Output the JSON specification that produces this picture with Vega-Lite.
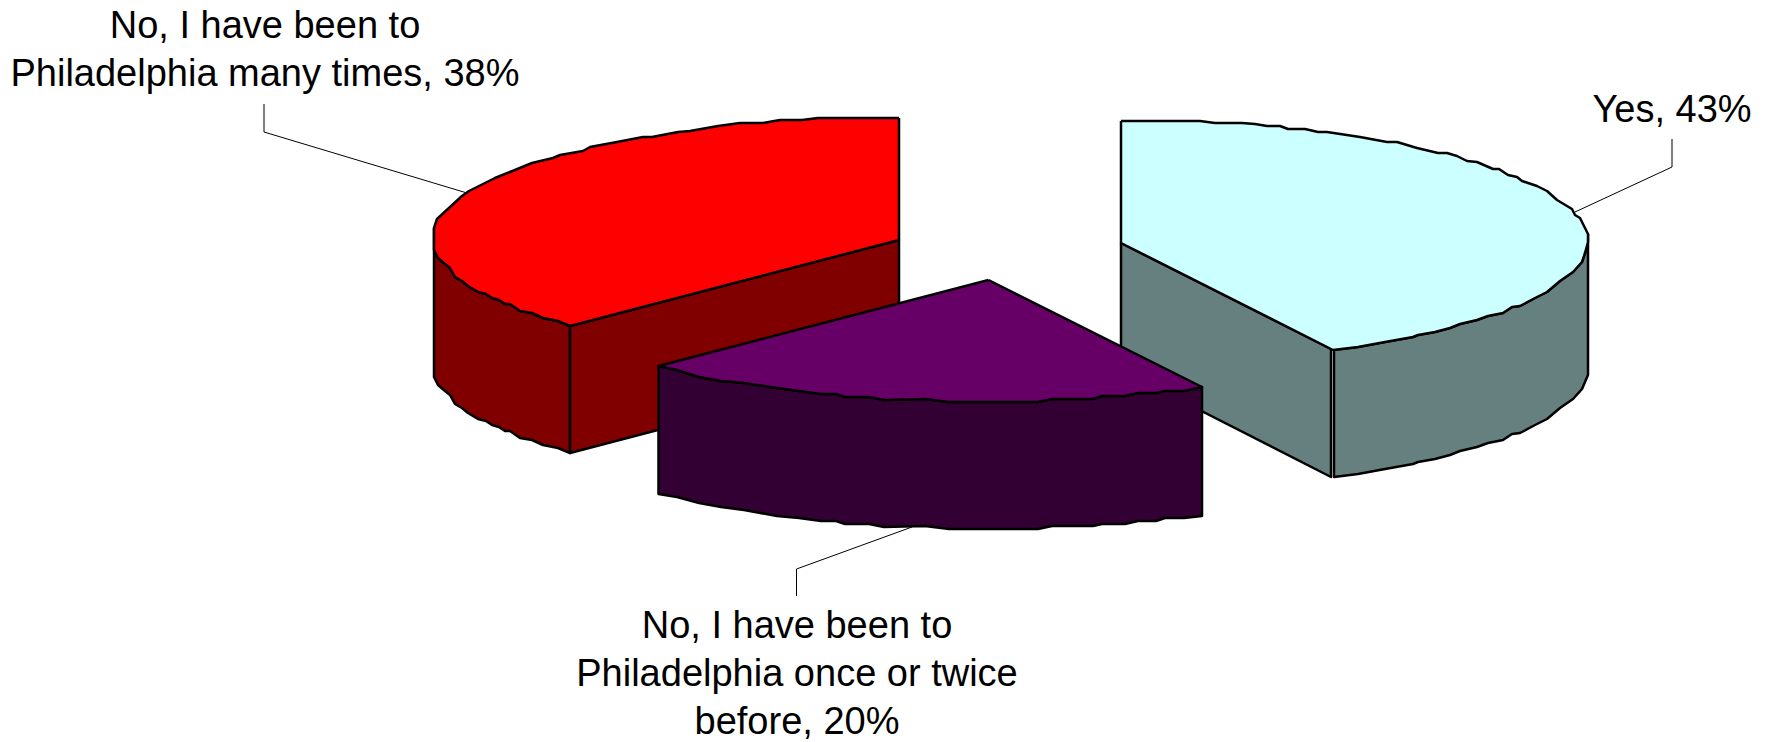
{
  "$schema": "https://vega.github.io/schema/vega-lite/v6.json",
  "autosize": {"type": "none"},
  "width": 1770,
  "height": 742,
  "padding": 0,
  "background": "white",
  "view": {"stroke": null},
  "datasets": {
    "faces": [
      {"face":"many_side","i":1,"x":434,"y":228},{"face":"many_side","i":2,"x":434,"y":250},{"face":"many_side","i":3,"x":438,"y":258},{"face":"many_side","i":4,"x":445,"y":264},{"face":"many_side","i":5,"x":450,"y":268},{"face":"many_side","i":6,"x":455,"y":277},{"face":"many_side","i":7,"x":462,"y":281},{"face":"many_side","i":8,"x":468,"y":286},{"face":"many_side","i":9,"x":478,"y":292},{"face":"many_side","i":10,"x":486,"y":294},{"face":"many_side","i":11,"x":492,"y":298},{"face":"many_side","i":12,"x":499,"y":300},{"face":"many_side","i":13,"x":505,"y":304},{"face":"many_side","i":14,"x":510,"y":304},{"face":"many_side","i":15,"x":520,"y":311},{"face":"many_side","i":16,"x":532,"y":313},{"face":"many_side","i":17,"x":543,"y":318},{"face":"many_side","i":18,"x":558,"y":321},{"face":"many_side","i":19,"x":570,"y":326},{"face":"many_side","i":20,"x":570,"y":453},{"face":"many_side","i":21,"x":558,"y":448},{"face":"many_side","i":22,"x":543,"y":445},{"face":"many_side","i":23,"x":532,"y":440},{"face":"many_side","i":24,"x":520,"y":438},{"face":"many_side","i":25,"x":510,"y":431},{"face":"many_side","i":26,"x":505,"y":431},{"face":"many_side","i":27,"x":499,"y":427},{"face":"many_side","i":28,"x":492,"y":425},{"face":"many_side","i":29,"x":486,"y":421},{"face":"many_side","i":30,"x":478,"y":419},{"face":"many_side","i":31,"x":468,"y":413},{"face":"many_side","i":32,"x":462,"y":408},{"face":"many_side","i":33,"x":455,"y":404},{"face":"many_side","i":34,"x":450,"y":395},{"face":"many_side","i":35,"x":445,"y":391},{"face":"many_side","i":36,"x":438,"y":385},{"face":"many_side","i":37,"x":434,"y":377},{"face":"many_side","i":38,"x":434,"y":228},
      {"face":"many_cut","i":1,"x":570,"y":326},{"face":"many_cut","i":2,"x":899,"y":240},{"face":"many_cut","i":3,"x":899,"y":367},{"face":"many_cut","i":4,"x":570,"y":453},{"face":"many_cut","i":5,"x":570,"y":326},
      {"face":"many_top","i":1,"x":899,"y":118},{"face":"many_top","i":2,"x":818,"y":118},{"face":"many_top","i":3,"x":802,"y":120},{"face":"many_top","i":4,"x":780,"y":120},{"face":"many_top","i":5,"x":763,"y":123},{"face":"many_top","i":6,"x":740,"y":123},{"face":"many_top","i":7,"x":718,"y":126},{"face":"many_top","i":8,"x":690,"y":131},{"face":"many_top","i":9,"x":678,"y":132},{"face":"many_top","i":10,"x":652,"y":137},{"face":"many_top","i":11,"x":643,"y":137},{"face":"many_top","i":12,"x":617,"y":142},{"face":"many_top","i":13,"x":590,"y":147},{"face":"many_top","i":14,"x":583,"y":151},{"face":"many_top","i":15,"x":560,"y":155},{"face":"many_top","i":16,"x":553,"y":158},{"face":"many_top","i":17,"x":532,"y":163},{"face":"many_top","i":18,"x":510,"y":172},{"face":"many_top","i":19,"x":495,"y":178},{"face":"many_top","i":20,"x":485,"y":183},{"face":"many_top","i":21,"x":469,"y":191},{"face":"many_top","i":22,"x":462,"y":196},{"face":"many_top","i":23,"x":437,"y":219},{"face":"many_top","i":24,"x":434,"y":228},{"face":"many_top","i":25,"x":434,"y":250},{"face":"many_top","i":26,"x":438,"y":258},{"face":"many_top","i":27,"x":445,"y":264},{"face":"many_top","i":28,"x":450,"y":268},{"face":"many_top","i":29,"x":455,"y":277},{"face":"many_top","i":30,"x":462,"y":281},{"face":"many_top","i":31,"x":468,"y":286},{"face":"many_top","i":32,"x":478,"y":292},{"face":"many_top","i":33,"x":486,"y":294},{"face":"many_top","i":34,"x":492,"y":298},{"face":"many_top","i":35,"x":499,"y":300},{"face":"many_top","i":36,"x":505,"y":304},{"face":"many_top","i":37,"x":510,"y":304},{"face":"many_top","i":38,"x":520,"y":311},{"face":"many_top","i":39,"x":532,"y":313},{"face":"many_top","i":40,"x":543,"y":318},{"face":"many_top","i":41,"x":558,"y":321},{"face":"many_top","i":42,"x":570,"y":326},{"face":"many_top","i":43,"x":899,"y":240},{"face":"many_top","i":44,"x":899,"y":118},
      {"face":"yes_side","i":1,"x":1588,"y":234},{"face":"yes_side","i":2,"x":1588,"y":242},{"face":"yes_side","i":3,"x":1585,"y":253},{"face":"yes_side","i":4,"x":1582,"y":262},{"face":"yes_side","i":5,"x":1573,"y":272},{"face":"yes_side","i":6,"x":1560,"y":281},{"face":"yes_side","i":7,"x":1547,"y":292},{"face":"yes_side","i":8,"x":1535,"y":298},{"face":"yes_side","i":9,"x":1520,"y":306},{"face":"yes_side","i":10,"x":1512,"y":307},{"face":"yes_side","i":11,"x":1503,"y":313},{"face":"yes_side","i":12,"x":1488,"y":316},{"face":"yes_side","i":13,"x":1477,"y":320},{"face":"yes_side","i":14,"x":1460,"y":324},{"face":"yes_side","i":15,"x":1450,"y":328},{"face":"yes_side","i":16,"x":1435,"y":332},{"face":"yes_side","i":17,"x":1418,"y":335},{"face":"yes_side","i":18,"x":1413,"y":337},{"face":"yes_side","i":19,"x":1385,"y":342},{"face":"yes_side","i":20,"x":1358,"y":347},{"face":"yes_side","i":21,"x":1334,"y":350},{"face":"yes_side","i":22,"x":1334,"y":477},{"face":"yes_side","i":23,"x":1358,"y":474},{"face":"yes_side","i":24,"x":1385,"y":469},{"face":"yes_side","i":25,"x":1413,"y":464},{"face":"yes_side","i":26,"x":1418,"y":462},{"face":"yes_side","i":27,"x":1435,"y":459},{"face":"yes_side","i":28,"x":1450,"y":455},{"face":"yes_side","i":29,"x":1460,"y":451},{"face":"yes_side","i":30,"x":1477,"y":447},{"face":"yes_side","i":31,"x":1488,"y":443},{"face":"yes_side","i":32,"x":1503,"y":440},{"face":"yes_side","i":33,"x":1512,"y":434},{"face":"yes_side","i":34,"x":1520,"y":433},{"face":"yes_side","i":35,"x":1535,"y":425},{"face":"yes_side","i":36,"x":1547,"y":419},{"face":"yes_side","i":37,"x":1560,"y":408},{"face":"yes_side","i":38,"x":1573,"y":399},{"face":"yes_side","i":39,"x":1582,"y":389},{"face":"yes_side","i":40,"x":1588,"y":375},{"face":"yes_side","i":41,"x":1588,"y":234},
      {"face":"yes_cut","i":1,"x":1121,"y":243},{"face":"yes_cut","i":2,"x":1331,"y":349},{"face":"yes_cut","i":3,"x":1331,"y":477},{"face":"yes_cut","i":4,"x":1121,"y":370},{"face":"yes_cut","i":5,"x":1121,"y":243},
      {"face":"yes_top","i":1,"x":1121,"y":121},{"face":"yes_top","i":2,"x":1200,"y":121},{"face":"yes_top","i":3,"x":1215,"y":123},{"face":"yes_top","i":4,"x":1242,"y":123},{"face":"yes_top","i":5,"x":1255,"y":124},{"face":"yes_top","i":6,"x":1267,"y":126},{"face":"yes_top","i":7,"x":1280,"y":126},{"face":"yes_top","i":8,"x":1288,"y":129},{"face":"yes_top","i":9,"x":1305,"y":129},{"face":"yes_top","i":10,"x":1318,"y":132},{"face":"yes_top","i":11,"x":1327,"y":132},{"face":"yes_top","i":12,"x":1360,"y":137},{"face":"yes_top","i":13,"x":1387,"y":142},{"face":"yes_top","i":14,"x":1397,"y":142},{"face":"yes_top","i":15,"x":1417,"y":148},{"face":"yes_top","i":16,"x":1438,"y":153},{"face":"yes_top","i":17,"x":1447,"y":153},{"face":"yes_top","i":18,"x":1457,"y":156},{"face":"yes_top","i":19,"x":1467,"y":161},{"face":"yes_top","i":20,"x":1477,"y":162},{"face":"yes_top","i":21,"x":1493,"y":169},{"face":"yes_top","i":22,"x":1499,"y":169},{"face":"yes_top","i":23,"x":1508,"y":175},{"face":"yes_top","i":24,"x":1517,"y":177},{"face":"yes_top","i":25,"x":1522,"y":181},{"face":"yes_top","i":26,"x":1537,"y":186},{"face":"yes_top","i":27,"x":1547,"y":191},{"face":"yes_top","i":28,"x":1557,"y":200},{"face":"yes_top","i":29,"x":1572,"y":209},{"face":"yes_top","i":30,"x":1575,"y":215},{"face":"yes_top","i":31,"x":1580,"y":218},{"face":"yes_top","i":32,"x":1585,"y":228},{"face":"yes_top","i":33,"x":1588,"y":234},{"face":"yes_top","i":34,"x":1588,"y":242},{"face":"yes_top","i":35,"x":1585,"y":253},{"face":"yes_top","i":36,"x":1582,"y":262},{"face":"yes_top","i":37,"x":1573,"y":272},{"face":"yes_top","i":38,"x":1560,"y":281},{"face":"yes_top","i":39,"x":1547,"y":292},{"face":"yes_top","i":40,"x":1535,"y":298},{"face":"yes_top","i":41,"x":1520,"y":306},{"face":"yes_top","i":42,"x":1512,"y":307},{"face":"yes_top","i":43,"x":1503,"y":313},{"face":"yes_top","i":44,"x":1488,"y":316},{"face":"yes_top","i":45,"x":1477,"y":320},{"face":"yes_top","i":46,"x":1460,"y":324},{"face":"yes_top","i":47,"x":1450,"y":328},{"face":"yes_top","i":48,"x":1435,"y":332},{"face":"yes_top","i":49,"x":1418,"y":335},{"face":"yes_top","i":50,"x":1413,"y":337},{"face":"yes_top","i":51,"x":1385,"y":342},{"face":"yes_top","i":52,"x":1358,"y":347},{"face":"yes_top","i":53,"x":1333,"y":350},{"face":"yes_top","i":54,"x":1121,"y":243},{"face":"yes_top","i":55,"x":1121,"y":121},
      {"face":"once_side","i":1,"x":658.5,"y":366},{"face":"once_side","i":2,"x":677,"y":370},{"face":"once_side","i":3,"x":699,"y":377},{"face":"once_side","i":4,"x":721,"y":381},{"face":"once_side","i":5,"x":744,"y":383},{"face":"once_side","i":6,"x":777,"y":388},{"face":"once_side","i":7,"x":799,"y":391},{"face":"once_side","i":8,"x":821,"y":394},{"face":"once_side","i":9,"x":836,"y":394},{"face":"once_side","i":10,"x":845,"y":397},{"face":"once_side","i":11,"x":869,"y":397},{"face":"once_side","i":12,"x":884,"y":400},{"face":"once_side","i":13,"x":925,"y":399},{"face":"once_side","i":14,"x":949,"y":402},{"face":"once_side","i":15,"x":1038,"y":402},{"face":"once_side","i":16,"x":1052,"y":399},{"face":"once_side","i":17,"x":1093,"y":399},{"face":"once_side","i":18,"x":1102,"y":396},{"face":"once_side","i":19,"x":1125,"y":396},{"face":"once_side","i":20,"x":1138,"y":393},{"face":"once_side","i":21,"x":1156,"y":393},{"face":"once_side","i":22,"x":1165,"y":391},{"face":"once_side","i":23,"x":1184,"y":391},{"face":"once_side","i":24,"x":1202,"y":387},{"face":"once_side","i":25,"x":1202,"y":516},{"face":"once_side","i":26,"x":1184,"y":518},{"face":"once_side","i":27,"x":1165,"y":518},{"face":"once_side","i":28,"x":1156,"y":521},{"face":"once_side","i":29,"x":1138,"y":521},{"face":"once_side","i":30,"x":1125,"y":524},{"face":"once_side","i":31,"x":1102,"y":524},{"face":"once_side","i":32,"x":1093,"y":526},{"face":"once_side","i":33,"x":1052,"y":526},{"face":"once_side","i":34,"x":1038,"y":529},{"face":"once_side","i":35,"x":949,"y":529},{"face":"once_side","i":36,"x":925,"y":526},{"face":"once_side","i":37,"x":884,"y":527},{"face":"once_side","i":38,"x":869,"y":524},{"face":"once_side","i":39,"x":845,"y":524},{"face":"once_side","i":40,"x":836,"y":521},{"face":"once_side","i":41,"x":821,"y":521},{"face":"once_side","i":42,"x":799,"y":518},{"face":"once_side","i":43,"x":777,"y":516},{"face":"once_side","i":44,"x":744,"y":510},{"face":"once_side","i":45,"x":721,"y":507},{"face":"once_side","i":46,"x":699,"y":503},{"face":"once_side","i":47,"x":677,"y":497},{"face":"once_side","i":48,"x":658.5,"y":494},{"face":"once_side","i":49,"x":658.5,"y":366},
      {"face":"once_top","i":1,"x":988.5,"y":280},{"face":"once_top","i":2,"x":658.5,"y":366},{"face":"once_top","i":3,"x":677,"y":370},{"face":"once_top","i":4,"x":699,"y":377},{"face":"once_top","i":5,"x":721,"y":381},{"face":"once_top","i":6,"x":744,"y":383},{"face":"once_top","i":7,"x":777,"y":388},{"face":"once_top","i":8,"x":799,"y":391},{"face":"once_top","i":9,"x":821,"y":394},{"face":"once_top","i":10,"x":836,"y":394},{"face":"once_top","i":11,"x":845,"y":397},{"face":"once_top","i":12,"x":869,"y":397},{"face":"once_top","i":13,"x":884,"y":400},{"face":"once_top","i":14,"x":925,"y":399},{"face":"once_top","i":15,"x":949,"y":402},{"face":"once_top","i":16,"x":1038,"y":402},{"face":"once_top","i":17,"x":1052,"y":399},{"face":"once_top","i":18,"x":1093,"y":399},{"face":"once_top","i":19,"x":1102,"y":396},{"face":"once_top","i":20,"x":1125,"y":396},{"face":"once_top","i":21,"x":1138,"y":393},{"face":"once_top","i":22,"x":1156,"y":393},{"face":"once_top","i":23,"x":1165,"y":391},{"face":"once_top","i":24,"x":1184,"y":391},{"face":"once_top","i":25,"x":1202,"y":387},{"face":"once_top","i":26,"x":988.5,"y":280}
    ],
    "leaders": [
      {"slice":"many","i":1,"x":264,"y":104},{"slice":"many","i":2,"x":264,"y":132},{"slice":"many","i":3,"x":467,"y":193},
      {"slice":"yes","i":1,"x":1672,"y":139},{"slice":"yes","i":2,"x":1672,"y":167},{"slice":"yes","i":3,"x":1575,"y":212},
      {"slice":"once","i":1,"x":796.5,"y":596},{"slice":"once","i":2,"x":796.5,"y":569},{"slice":"once","i":3,"x":912,"y":527}
    ],
    "labels": [
      {"label":"No, I have been to\nPhiladelphia many times, 38%","share":38,"x":265,"y":38},
      {"label":"Yes, 43%","share":43,"x":1672,"y":122},
      {"label":"No, I have been to\nPhiladelphia once or twice\nbefore, 20%","share":20,"x":797,"y":638}
    ]
  },
  "layer": [
    {
      "data": {"name": "leaders"},
      "mark": {"type": "line", "stroke": "black", "strokeWidth": 1},
      "encoding": {
        "x": {"field": "x", "type": "quantitative", "scale": {"domain": [0, 1770]}, "axis": null},
        "y": {"field": "y", "type": "quantitative", "scale": {"domain": [742, 0]}, "axis": null},
        "detail": {"field": "slice"},
        "order": {"field": "i"}
      }
    },
    {
      "data": {"name": "faces"},
      "mark": {"type": "line", "stroke": "black", "strokeWidth": 2.5, "strokeJoin": "round"},
      "encoding": {
        "x": {"field": "x", "type": "quantitative", "scale": {"domain": [0, 1770]}, "axis": null},
        "y": {"field": "y", "type": "quantitative", "scale": {"domain": [742, 0]}, "axis": null},
        "fill": {
          "field": "face",
          "scale": {
            "domain": ["many_side","many_cut","many_top","yes_side","yes_cut","yes_top","once_side","once_top"],
            "range": ["#800000","#800000","#ff0000","#668080","#668080","#ccffff","#330033","#660066"]
          },
          "legend": null
        },
        "order": {"field": "i"}
      }
    },
    {
      "data": {"name": "labels"},
      "mark": {"type": "text", "font": "Liberation Sans", "fontSize": 38, "lineHeight": 48, "lineBreak": "\n", "align": "center", "baseline": "alphabetic", "color": "black"},
      "encoding": {
        "x": {"field": "x", "type": "quantitative", "scale": {"domain": [0, 1770]}, "axis": null},
        "y": {"field": "y", "type": "quantitative", "scale": {"domain": [742, 0]}, "axis": null},
        "text": {"field": "label"}
      }
    }
  ]
}
